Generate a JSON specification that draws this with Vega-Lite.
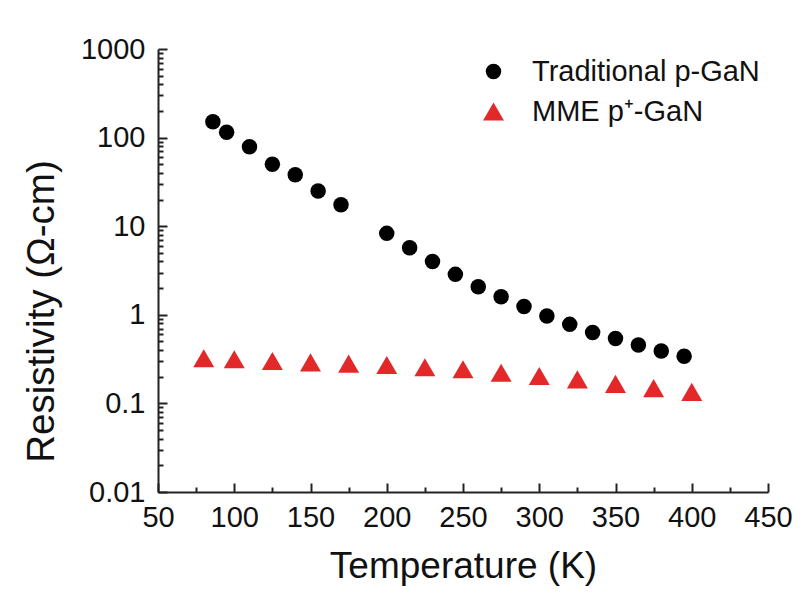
{
  "$schema": "https://vega.github.io/schema/vega-lite/v6.json",
  "autosize": {"type": "none"},
  "width": 610,
  "height": 443,
  "padding": {"left": 158, "top": 49, "right": 38, "bottom": 112},
  "background": "white",
  "config": {
    "view": {"stroke": null},
    "font": "Liberation Sans",
    "axis": {"grid": false, "domainColor": "#222", "tickColor": "#222", "labelColor": "#111", "titleColor": "#111", "domainWidth": 2, "tickWidth": 2, "labelFont": "Liberation Sans", "titleFont": "Liberation Sans", "titleFontWeight": "normal", "labelFlush": false, "labelOverlap": false}
  },
  "data": {"values": [
    {"T": 86, "R": 151, "series": "Traditional p-GaN"},
    {"T": 95, "R": 115, "series": "Traditional p-GaN"},
    {"T": 110, "R": 79, "series": "Traditional p-GaN"},
    {"T": 125, "R": 50, "series": "Traditional p-GaN"},
    {"T": 140, "R": 38, "series": "Traditional p-GaN"},
    {"T": 155, "R": 25, "series": "Traditional p-GaN"},
    {"T": 170, "R": 17.5, "series": "Traditional p-GaN"},
    {"T": 200, "R": 8.3, "series": "Traditional p-GaN"},
    {"T": 215, "R": 5.7, "series": "Traditional p-GaN"},
    {"T": 230, "R": 4.0, "series": "Traditional p-GaN"},
    {"T": 245, "R": 2.86, "series": "Traditional p-GaN"},
    {"T": 260, "R": 2.07, "series": "Traditional p-GaN"},
    {"T": 275, "R": 1.6, "series": "Traditional p-GaN"},
    {"T": 290, "R": 1.24, "series": "Traditional p-GaN"},
    {"T": 305, "R": 0.97, "series": "Traditional p-GaN"},
    {"T": 320, "R": 0.78, "series": "Traditional p-GaN"},
    {"T": 335, "R": 0.63, "series": "Traditional p-GaN"},
    {"T": 350, "R": 0.54, "series": "Traditional p-GaN"},
    {"T": 365, "R": 0.456, "series": "Traditional p-GaN"},
    {"T": 380, "R": 0.39, "series": "Traditional p-GaN"},
    {"T": 395, "R": 0.34, "series": "Traditional p-GaN"},
    {"T": 80, "R": 0.323, "series": "MME p⁺-GaN"},
    {"T": 100, "R": 0.315, "series": "MME p⁺-GaN"},
    {"T": 125, "R": 0.301, "series": "MME p⁺-GaN"},
    {"T": 150, "R": 0.291, "series": "MME p⁺-GaN"},
    {"T": 175, "R": 0.281, "series": "MME p⁺-GaN"},
    {"T": 200, "R": 0.271, "series": "MME p⁺-GaN"},
    {"T": 225, "R": 0.256, "series": "MME p⁺-GaN"},
    {"T": 250, "R": 0.243, "series": "MME p⁺-GaN"},
    {"T": 275, "R": 0.222, "series": "MME p⁺-GaN"},
    {"T": 300, "R": 0.204, "series": "MME p⁺-GaN"},
    {"T": 325, "R": 0.187, "series": "MME p⁺-GaN"},
    {"T": 350, "R": 0.166, "series": "MME p⁺-GaN"},
    {"T": 375, "R": 0.149, "series": "MME p⁺-GaN"},
    {"T": 400, "R": 0.135, "series": "MME p⁺-GaN"}
  ]},
  "mark": {"type": "point", "filled": true, "opacity": 1},
  "encoding": {
    "x": {"field": "T", "type": "quantitative",
      "scale": {"domain": [50, 450], "nice": false, "zero": false},
      "axis": {"orient": "bottom",
        "values": [50, 75, 100, 125, 150, 175, 200, 225, 250, 275, 300, 325, 350, 375, 400, 425, 450],
        "labelExpr": "datum.value % 50 == 0 ? datum.label : ''",
        "tickSize": {"condition": {"test": "datum.value % 50 == 0", "value": -9}, "value": -5},
        "labelPadding": 20, "labelFontSize": 29,
        "title": "Temperature (K)", "titleFontSize": 37, "titleBaseline": "alphabetic", "titleY": 85}},
    "y": {"field": "R", "type": "quantitative",
      "scale": {"type": "log", "domain": [0.01, 1000], "nice": false},
      "axis": {"orient": "left",
        "values": [0.01, 0.02, 0.03, 0.04, 0.05, 0.06, 0.07, 0.08, 0.09, 0.1, 0.2, 0.3, 0.4, 0.5, 0.6, 0.7, 0.8, 0.9, 1, 2, 3, 4, 5, 6, 7, 8, 9, 10, 20, 30, 40, 50, 60, 70, 80, 90, 100, 200, 300, 400, 500, 600, 700, 800, 900, 1000],
        "format": "~g",
        "labelExpr": "abs(log(datum.value)/LN10 - round(log(datum.value)/LN10)) < 0.001 ? datum.label : ''",
        "tickSize": {"condition": {"test": "abs(log(datum.value)/LN10 - round(log(datum.value)/LN10)) < 0.001", "value": -9}, "value": -5},
        "labelPadding": 22, "labelFontSize": 29,
        "title": "Resistivity (Ω-cm)", "titleFontSize": 38.5, "titleAngle": -90, "titleBaseline": "alphabetic", "titleAlign": "center", "titleX": -105, "titleY": 262}},
    "color": {"field": "series", "type": "nominal",
      "scale": {"domain": ["Traditional p-GaN", "MME p⁺-GaN"], "range": ["#000000", "#e3282a"]},
      "legend": {"title": null, "orient": "top-right", "offset": 8, "labelFontSize": 29, "labelFont": "Liberation Sans", "labelColor": "#111", "labelLimit": 500, "rowPadding": 10, "symbolOpacity": 1, "labelOffset": 24}},
    "shape": {"field": "series", "type": "nominal",
      "scale": {"domain": ["Traditional p-GaN", "MME p⁺-GaN"], "range": ["circle", "triangle-up"]}},
    "size": {"field": "series", "type": "nominal",
      "scale": {"domain": ["Traditional p-GaN", "MME p⁺-GaN"], "range": [240, 440]}}
  }
}
